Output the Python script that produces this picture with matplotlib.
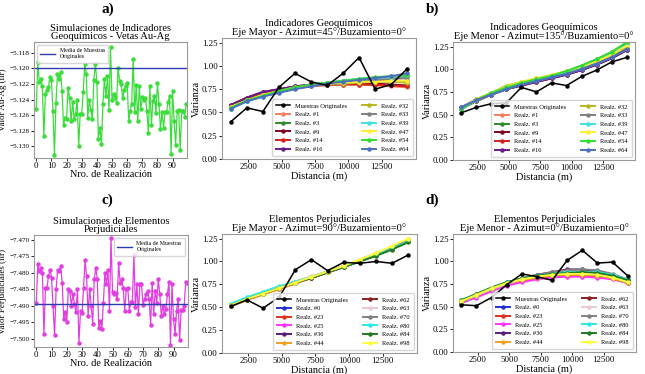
import matplotlib
matplotlib.use("Agg")
import matplotlib.pyplot as plt

plt.rcParams['font.family'] = ['Liberation Serif', 'DejaVu Serif']

# ---- simulated mean values per realization (ilr) ----
realizaciones = list(range(100))

au_ag = [-5.1252, -5.1192, -5.1218, -5.1213, -5.1223, -5.1287, -5.1233, -5.1228, -5.1224, -5.1211,
         -5.1215, -5.1254, -5.1311, -5.1244, -5.1207, -5.1213, -5.1205, -5.1229, -5.1273, -5.1263,
         -5.1265, -5.1225, -5.1238, -5.1268, -5.1243, -5.1265, -5.1258, -5.1240, -5.1300, -5.1258,
         -5.1258, -5.1230, -5.1194, -5.1207, -5.1263, -5.1240, -5.1253, -5.1265, -5.1215, -5.1194,
         -5.1217, -5.1290, -5.1277, -5.1297, -5.1245, -5.1213, -5.1236, -5.1210, -5.1253, -5.1173,
         -5.1240, -5.1233, -5.1237, -5.1244, -5.1199, -5.1216, -5.1220, -5.1238, -5.1228, -5.1222,
         -5.1219, -5.1267, -5.1255, -5.1245, -5.1188, -5.1256, -5.1221, -5.1268, -5.1223, -5.1252,
         -5.1237, -5.1240, -5.1238, -5.1254, -5.1283, -5.1222, -5.1272, -5.1242, -5.1235, -5.1257,
         -5.1219, -5.1245, -5.1278, -5.1256, -5.1276, -5.1256, -5.1256, -5.1243, -5.1236, -5.1310,
         -5.1229, -5.1268, -5.1298, -5.1255, -5.1253, -5.1305, -5.1255, -5.1255, -5.1262, -5.1245]
media_au_ag = -5.1200

perjud = [-7.4892, -7.4772, -7.4795, -7.4785, -7.4800, -7.4987, -7.4845, -7.4845, -7.4810, -7.4790,
          -7.4815, -7.4902, -7.4990, -7.4850, -7.4790, -7.4795, -7.4780, -7.4830, -7.4940, -7.4920,
          -7.4948, -7.4850, -7.4855, -7.4900, -7.4865, -7.4895, -7.4920, -7.4850, -7.5012, -7.4915,
          -7.4922, -7.4845, -7.4762, -7.4810, -7.4930, -7.4848, -7.4900, -7.4955, -7.4820, -7.4785,
          -7.4818, -7.4968, -7.4945, -7.4970, -7.4890, -7.4800, -7.4835, -7.4790, -7.4915, -7.4693,
          -7.4858, -7.4865, -7.4860, -7.4880, -7.4770, -7.4830, -7.4820, -7.4845, -7.4915, -7.4850,
          -7.4845, -7.4915, -7.4888, -7.4888, -7.4745, -7.4905, -7.4835, -7.4925, -7.4835, -7.4835,
          -7.4898, -7.4880, -7.4865, -7.4855, -7.4880, -7.4958, -7.4830, -7.4925, -7.4855, -7.4890,
          -7.4818, -7.4865, -7.4930, -7.4900, -7.4925, -7.4910, -7.4865, -7.4828, -7.5018, -7.4835,
          -7.4940, -7.4985, -7.4915, -7.4878, -7.5005, -7.4913, -7.4912, -7.4900, -7.4828, -7.4830]
media_perjud = -7.4893

# ---- variograms ----
lags = [1200, 2400, 3600, 4800, 6000, 7200, 8400, 9600, 10800, 12000, 13200, 14400]

orig_geo_mayor = [0.40, 0.55, 0.51, 0.77, 0.92, 0.83, 0.79, 0.92, 1.09, 0.75, 0.80, 0.97]
orig_geo_menor = [0.52, 0.58, 0.62, 0.63, 0.80, 0.75, 0.85, 0.82, 0.92, 0.99, 1.08, 1.13]
orig_per_mayor = [0.51, 0.58, 0.49, 0.61, 0.91, 1.02, 0.90, 0.99, 0.98, 1.00, 0.98, 1.07]
orig_per_menor = [0.52, 0.51, 0.60, 0.74, 0.86, 0.83, 0.79, 1.01, 1.12, 0.98, 0.99, 0.84]

realz_geo = ["Realz. #1", "Realz. #3", "Realz. #9", "Realz. #14", "Realz. #16", "Realz. #32",
             "Realz. #33", "Realz. #39", "Realz. #47", "Realz. #54", "Realz. #64"]
colores_geo = ['#f08060', '#2e8b2e', '#800020', '#d62020', '#6a1b8a', '#b5b520',
               '#808080', '#40e0e0', '#ffee33', '#33dd33', '#4a6fbf']

geo_mayor = [
    [0.56, 0.64, 0.69, 0.73, 0.76, 0.78, 0.79, 0.80, 0.80, 0.79, 0.78, 0.77],
    [0.55, 0.63, 0.69, 0.73, 0.77, 0.80, 0.82, 0.84, 0.86, 0.87, 0.88, 0.89],
    [0.58, 0.66, 0.72, 0.75, 0.78, 0.80, 0.81, 0.82, 0.82, 0.81, 0.80, 0.79],
    [0.57, 0.65, 0.71, 0.74, 0.77, 0.79, 0.80, 0.80, 0.80, 0.80, 0.79, 0.78],
    [0.58, 0.66, 0.72, 0.75, 0.78, 0.80, 0.81, 0.82, 0.83, 0.84, 0.84, 0.84],
    [0.56, 0.63, 0.69, 0.73, 0.76, 0.79, 0.80, 0.81, 0.82, 0.83, 0.83, 0.82],
    [0.55, 0.62, 0.68, 0.72, 0.76, 0.78, 0.80, 0.82, 0.84, 0.85, 0.86, 0.87],
    [0.54, 0.62, 0.67, 0.72, 0.76, 0.79, 0.82, 0.84, 0.86, 0.87, 0.88, 0.90],
    [0.56, 0.63, 0.69, 0.73, 0.77, 0.79, 0.81, 0.82, 0.83, 0.83, 0.84, 0.84],
    [0.55, 0.63, 0.68, 0.73, 0.77, 0.80, 0.82, 0.84, 0.86, 0.88, 0.89, 0.90],
    [0.54, 0.62, 0.67, 0.71, 0.75, 0.78, 0.81, 0.83, 0.85, 0.87, 0.89, 0.92],
]
geo_menor = [
    [0.57, 0.66, 0.72, 0.78, 0.83, 0.87, 0.91, 0.95, 1.00, 1.06, 1.13, 1.22],
    [0.56, 0.66, 0.73, 0.80, 0.85, 0.89, 0.93, 0.98, 1.04, 1.11, 1.19, 1.29],
    [0.57, 0.65, 0.72, 0.78, 0.82, 0.86, 0.90, 0.94, 0.99, 1.05, 1.12, 1.21],
    [0.56, 0.65, 0.72, 0.78, 0.83, 0.87, 0.91, 0.95, 1.00, 1.06, 1.13, 1.23],
    [0.58, 0.67, 0.73, 0.78, 0.82, 0.86, 0.90, 0.94, 0.99, 1.05, 1.12, 1.21],
    [0.57, 0.67, 0.74, 0.82, 0.86, 0.90, 0.93, 0.97, 1.02, 1.08, 1.15, 1.25],
    [0.56, 0.65, 0.72, 0.78, 0.83, 0.87, 0.91, 0.95, 1.00, 1.06, 1.13, 1.22],
    [0.56, 0.66, 0.73, 0.79, 0.84, 0.88, 0.92, 0.97, 1.03, 1.09, 1.17, 1.27],
    [0.57, 0.67, 0.74, 0.81, 0.86, 0.90, 0.94, 0.98, 1.03, 1.09, 1.16, 1.26],
    [0.56, 0.66, 0.74, 0.80, 0.85, 0.89, 0.93, 0.98, 1.04, 1.11, 1.19, 1.30],
    [0.58, 0.66, 0.72, 0.78, 0.83, 0.87, 0.91, 0.95, 1.00, 1.06, 1.13, 1.22],
]

realz_per = ["Realz. #0", "Realz. #23", "Realz. #25", "Realz. #36", "Realz. #44", "Realz. #62",
             "Realz. #63", "Realz. #70", "Realz. #80", "Realz. #84", "Realz. #98"]
colores_per = ['#2030d0', '#e03020', '#ff33ff', '#5a1a7a', '#f0a020', '#8b2020',
               '#e8c8d8', '#808080', '#30e8e8', '#207a20', '#ffff40']

per_mayor = [
    [0.52, 0.59, 0.65, 0.71, 0.77, 0.82, 0.88, 0.94, 1.00, 1.07, 1.14, 1.22],
    [0.51, 0.58, 0.64, 0.70, 0.76, 0.82, 0.88, 0.94, 1.01, 1.08, 1.15, 1.23],
    [0.52, 0.59, 0.66, 0.72, 0.77, 0.83, 0.88, 0.94, 1.00, 1.07, 1.14, 1.22],
    [0.52, 0.60, 0.66, 0.72, 0.78, 0.83, 0.89, 0.95, 1.01, 1.07, 1.14, 1.22],
    [0.51, 0.58, 0.64, 0.70, 0.76, 0.82, 0.89, 0.95, 1.02, 1.09, 1.16, 1.24],
    [0.52, 0.59, 0.65, 0.71, 0.77, 0.82, 0.88, 0.94, 1.00, 1.07, 1.14, 1.22],
    [0.53, 0.60, 0.66, 0.72, 0.78, 0.84, 0.89, 0.95, 1.01, 1.08, 1.15, 1.23],
    [0.52, 0.59, 0.65, 0.71, 0.77, 0.83, 0.89, 0.95, 1.01, 1.08, 1.15, 1.23],
    [0.54, 0.61, 0.67, 0.73, 0.78, 0.83, 0.89, 0.94, 1.00, 1.07, 1.14, 1.22],
    [0.52, 0.59, 0.65, 0.71, 0.77, 0.82, 0.88, 0.94, 1.00, 1.06, 1.13, 1.21],
    [0.52, 0.59, 0.65, 0.71, 0.77, 0.83, 0.89, 0.95, 1.02, 1.09, 1.17, 1.25],
]
per_menor = [
    [0.55, 0.62, 0.69, 0.75, 0.80, 0.83, 0.85, 0.86, 0.86, 0.85, 0.82, 0.77],
    [0.54, 0.61, 0.68, 0.74, 0.78, 0.81, 0.83, 0.84, 0.84, 0.83, 0.81, 0.76],
    [0.54, 0.60, 0.67, 0.73, 0.77, 0.80, 0.82, 0.83, 0.83, 0.82, 0.80, 0.76],
    [0.56, 0.63, 0.70, 0.76, 0.81, 0.85, 0.88, 0.91, 0.91, 0.89, 0.85, 0.79],
    [0.55, 0.62, 0.69, 0.75, 0.79, 0.82, 0.84, 0.85, 0.85, 0.84, 0.81, 0.76],
    [0.55, 0.62, 0.69, 0.75, 0.80, 0.83, 0.85, 0.86, 0.86, 0.85, 0.82, 0.77],
    [0.55, 0.62, 0.69, 0.75, 0.80, 0.83, 0.86, 0.87, 0.87, 0.86, 0.83, 0.78],
    [0.55, 0.63, 0.70, 0.76, 0.81, 0.85, 0.88, 0.90, 0.91, 0.90, 0.86, 0.80],
    [0.57, 0.64, 0.71, 0.77, 0.81, 0.84, 0.86, 0.88, 0.88, 0.88, 0.85, 0.80],
    [0.57, 0.64, 0.71, 0.77, 0.81, 0.84, 0.86, 0.87, 0.88, 0.87, 0.84, 0.79],
    [0.56, 0.63, 0.70, 0.76, 0.80, 0.83, 0.85, 0.86, 0.86, 0.85, 0.82, 0.77],
]

W, H = 645, 374
fig = plt.figure(figsize=(W / 100, H / 100), dpi=100)


def axes_px(left, top, right, bottom):
    return fig.add_axes([left / W, 1 - bottom / H, (right - left) / W, (bottom - top) / H])


def estilo(ax):
    for s in ax.spines.values():
        s.set_color('#999999')
        s.set_linewidth(0.8)
    ax.tick_params(labelsize=6.3, length=2, width=0.6, pad=1.2)


def panel_sim(ax, vals, media, color, titulo, ylabel, yticks, ylim, loc):
    ax.plot(realizaciones, vals, color=color, marker='o', ms=2.2, lw=0.9)
    ax.axhline(media, color='#2a3cb0', lw=1.0, label='Media de Muestras\nOriginales')
    ax.set_xlim(-1.5, 99.5)
    ax.set_ylim(*ylim)
    ax.set_xticks(range(0, 100, 10))
    ax.set_yticks(yticks)
    ax.set_yticklabels(['\u2212%.3f' % abs(v) for v in yticks])
    ax.set_title(titulo, fontsize=7.6, pad=2, linespacing=0.95)
    ax.set_xlabel('Nro. de Realización', fontsize=7.4, labelpad=0)
    ax.set_ylabel(ylabel, fontsize=6.5)
    # place the y label at ~7 px from the figure edge
    bbox = ax.get_position()
    ax.yaxis.set_label_coords((7.0 / W - bbox.x0) / bbox.width, 0.5)
    ax.legend(loc=loc, fontsize=4.2, handlelength=2.5, borderpad=0.6, frameon=True)
    estilo(ax)
    ax.tick_params(axis='y', labelsize=5.1, pad=1.0)


def panel_vario(ax, orig, curvas, nombres, colores, titulo):
    ax.plot(lags, orig, color='black', marker='o', ms=2.2, lw=1.1, label='Muestras Originales',
            zorder=5)
    for c, n, col in zip(curvas, nombres, colores):
        ax.plot(lags, c, color=col, marker='o', ms=2.2, lw=1.4, label=n)
    ax.set_ylim(0, 1.3)
    ax.set_yticks([0, 0.25, 0.5, 0.75, 1.0, 1.25])
    ax.set_xticks([2500, 5000, 7500, 10000, 12500])
    ax.set_title(titulo, fontsize=7.6, pad=2, linespacing=0.95)
    ax.set_xlabel('Distancia (m)', fontsize=7.4, labelpad=0)
    ax.set_ylabel('Varianza', fontsize=7.4, labelpad=1)
    ax.legend(loc='lower right', ncol=2, fontsize=4.6, handlelength=2.2,
              labelspacing=0.5, columnspacing=2.4, borderpad=0.6)
    estilo(ax)


ax1 = axes_px(34, 42, 187, 158)
panel_sim(ax1, au_ag, media_au_ag, '#3ddc3d',
          'Simulaciones de Indicadores\nGeoquímicos - Vetas Au-Ag', 'Valor Au-Ag (ilr)',
          [-5.118, -5.120, -5.122, -5.124, -5.126, -5.128, -5.130], (-5.1315, -5.1166),
          'upper left')

ax2 = axes_px(222, 38, 416, 159)
panel_vario(ax2, orig_geo_mayor, geo_mayor, realz_geo, colores_geo,
            'Indicadores Geoquímicos\nEje Mayor - Azimut=45°/Buzamiento=0°')

ax3 = axes_px(453, 42, 635, 160)
panel_vario(ax3, orig_geo_menor, geo_menor, realz_geo, colores_geo,
            'Indicadores Geoquímicos\nEje Menor - Azimut=135°/Buzamiento=0°')

ax4 = axes_px(34, 235, 188, 347)
panel_sim(ax4, perjud, media_perjud, '#e040e0',
          'Simulaciones de Elementos\nPerjudiciales', 'Valor Perjudiciales (ilr)',
          [-7.470, -7.475, -7.480, -7.485, -7.490, -7.495, -7.500], (-7.5025, -7.4685),
          'upper right')

ax5 = axes_px(222, 234, 417, 353)
panel_vario(ax5, orig_per_mayor, per_mayor, realz_per, colores_per,
            'Elementos Perjudiciales\nEje Mayor - Azimut=90°/Buzamiento=0°')

ax6 = axes_px(453, 234, 636, 352)
panel_vario(ax6, orig_per_menor, per_menor, realz_per, colores_per,
            'Elementos Perjudiciales\nEje Menor - Azimut=0°/Buzamiento=0°')

for lab, x, y in [('a)', 108, 9), ('b)', 433, 9), ('c)', 107, 200), ('d)', 432, 200)]:
    fig.text(x / W, 1 - y / H, lab, fontsize=11, fontweight='bold', ha='center', va='center')

fig.savefig('out.png', dpi=100)
